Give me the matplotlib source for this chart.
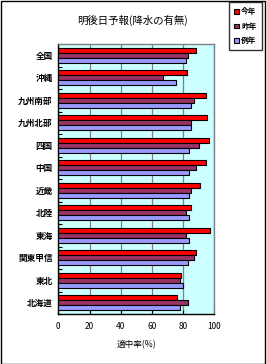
import matplotlib
matplotlib.use("Agg")
import matplotlib.pyplot as plt
import numpy as np
from matplotlib.patches import Rectangle

plt.rcParams['font.family'] = ['Noto Sans CJK JP', 'DejaVu Sans']

regions = ['全国', '沖縄', '九州南部', '九州北部', '四国', '中国', '近畿', '北陸', '東海', '関東甲信', '東北', '北海道']
this_year = [88.0, 82.3, 94.5, 95.1, 96.4, 94.5, 91.1, 85.3, 97.0, 88.0, 78.9, 76.3]
last_year = [83.4, 67.3, 87.2, 85.3, 90.4, 88.0, 85.3, 82.1, 82.1, 87.2, 78.2, 83.4]
normal_year = [82.1, 75.2, 85.3, 85.3, 84.0, 84.0, 84.0, 84.0, 84.0, 83.4, 80.1, 78.2]
series_names = ['今年', '昨年', '例年']
colors = ['#FF0000', '#993366', '#9999FF']
xticks = [0, 20, 40, 60, 80, 100]

W, H = 266, 364
fig = plt.figure(figsize=(W/100, H/100), dpi=100)
fig.patch.set_facecolor('white')
fig.add_artist(Rectangle((0.5/W, 0.5/H), (W-1.5)/W, (H-1.5)/H, transform=fig.transFigure,
                         fill=False, edgecolor='black', linewidth=1.0))

ax = fig.add_axes([58.3/W, 50/H, 156/W, 270/H])
ax.set_facecolor('#CCFFFF')

n = len(regions)
pos = np.arange(n)[::-1].astype(float)
bh = 0.222
data = [this_year, last_year, normal_year]
offsets = [bh, 0, -bh]
for vals, c, off, name in zip(data, colors, offsets, series_names):
    ax.barh(pos + off, vals, height=bh, color=c, edgecolor='black', linewidth=0.8,
            label=name, zorder=3)

ax.set_xlim(0, 100)
ax.set_ylim(-0.5, n - 0.5)
ax.set_xticks(xticks)
ax.set_xticklabels([str(t) for t in xticks], fontsize=6)
ax.set_yticks(pos)
ax.set_yticklabels(regions, fontsize=6.2, fontweight='bold')
ax.set_yticks(np.arange(n + 1) - 0.5, minor=True)
ax.tick_params(axis='y', which='major', length=0, pad=4)
ax.tick_params(axis='y', which='minor', length=3, direction='in', width=0.8)
ax.tick_params(axis='x', which='major', length=3, direction='in', width=0.8, pad=6)
ax.xaxis.grid(True, color='#808080', linewidth=0.9, zorder=0)
ax.set_axisbelow(True)
for s in ['top', 'right']:
    ax.spines[s].set_color('#808080')
    ax.spines[s].set_linewidth(1.0)
for s in ['left', 'bottom']:
    ax.spines[s].set_color('black')
    ax.spines[s].set_linewidth(1.0)
ax.set_xlabel('適中率(%)', fontsize=6.2, labelpad=6)

fig.text(133/W, 1 - 20/H, '明後日予報(降水の有無)', ha='center', va='center', fontsize=7.5)

handles, labels = ax.get_legend_handles_labels()
leg = fig.legend(handles, labels, loc='upper left', bbox_to_anchor=(229/W, 1 - 2/H),
                 fontsize=5.5, frameon=True, fancybox=False, edgecolor='black',
                 handlelength=0.6, handleheight=0.6, handletextpad=0.3,
                 borderpad=0.7, labelspacing=0.7, borderaxespad=0)
leg.get_frame().set_linewidth(1.0)
for t in leg.get_texts():
    t.set_fontweight('bold')

fig.savefig('out.png', dpi=100)
